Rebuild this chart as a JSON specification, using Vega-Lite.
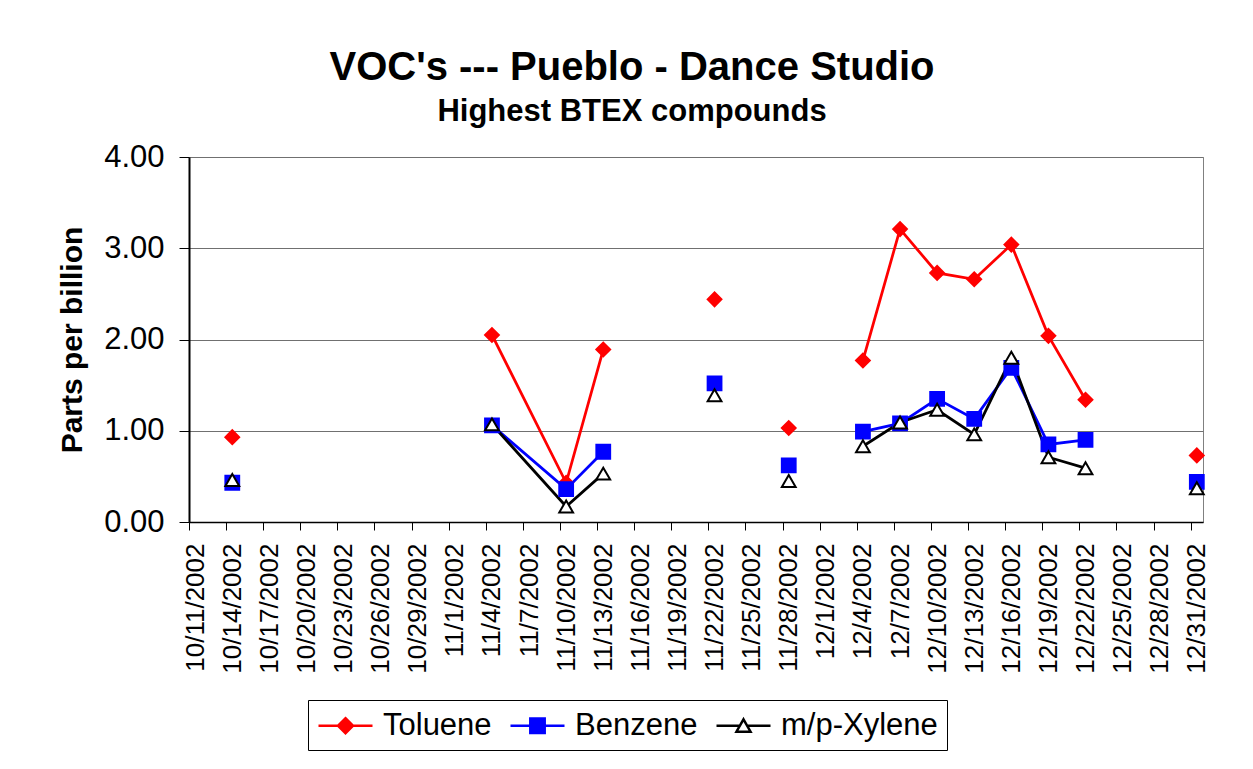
{
  "$schema": "https://vega.github.io/schema/vega-lite/v6.json",
  "autosize": {"type": "none"},
  "padding": {"left": 189, "top": 157, "right": 50, "bottom": 247},
  "width": 1014,
  "height": 365,
  "background": "white",
  "title": {
    "text": "VOC's --- Pueblo - Dance Studio",
    "subtitle": "Highest BTEX compounds",
    "font": "Liberation Sans",
    "subtitleFont": "Liberation Sans",
    "fontSize": 40,
    "subtitleFontSize": 31,
    "fontWeight": "bold",
    "subtitleFontWeight": "bold",
    "color": "#000000",
    "subtitleColor": "#000000",
    "anchor": "middle",
    "frame": "group",
    "dx": -64,
    "offset": 14,
    "subtitlePadding": 9
  },
  "data": {
    "values": [
      {"date": "2002-10-14", "compound": "Toluene", "ppb": 0.93, "run": 1},
      {"date": "2002-11-04", "compound": "Toluene", "ppb": 2.05, "run": 2},
      {"date": "2002-11-10", "compound": "Toluene", "ppb": 0.43, "run": 2},
      {"date": "2002-11-13", "compound": "Toluene", "ppb": 1.89, "run": 2},
      {"date": "2002-11-22", "compound": "Toluene", "ppb": 2.44, "run": 3},
      {"date": "2002-11-28", "compound": "Toluene", "ppb": 1.03, "run": 4},
      {"date": "2002-12-04", "compound": "Toluene", "ppb": 1.77, "run": 5},
      {"date": "2002-12-07", "compound": "Toluene", "ppb": 3.21, "run": 5},
      {"date": "2002-12-10", "compound": "Toluene", "ppb": 2.73, "run": 5},
      {"date": "2002-12-13", "compound": "Toluene", "ppb": 2.66, "run": 5},
      {"date": "2002-12-16", "compound": "Toluene", "ppb": 3.04, "run": 5},
      {"date": "2002-12-19", "compound": "Toluene", "ppb": 2.04, "run": 5},
      {"date": "2002-12-22", "compound": "Toluene", "ppb": 1.34, "run": 5},
      {"date": "2002-12-31", "compound": "Toluene", "ppb": 0.73, "run": 6},
      {"date": "2002-10-14", "compound": "Benzene", "ppb": 0.43, "run": 1},
      {"date": "2002-11-04", "compound": "Benzene", "ppb": 1.06, "run": 2},
      {"date": "2002-11-10", "compound": "Benzene", "ppb": 0.36, "run": 2},
      {"date": "2002-11-13", "compound": "Benzene", "ppb": 0.77, "run": 2},
      {"date": "2002-11-22", "compound": "Benzene", "ppb": 1.52, "run": 3},
      {"date": "2002-11-28", "compound": "Benzene", "ppb": 0.62, "run": 4},
      {"date": "2002-12-04", "compound": "Benzene", "ppb": 0.99, "run": 5},
      {"date": "2002-12-07", "compound": "Benzene", "ppb": 1.08, "run": 5},
      {"date": "2002-12-10", "compound": "Benzene", "ppb": 1.35, "run": 5},
      {"date": "2002-12-13", "compound": "Benzene", "ppb": 1.13, "run": 5},
      {"date": "2002-12-16", "compound": "Benzene", "ppb": 1.69, "run": 5},
      {"date": "2002-12-19", "compound": "Benzene", "ppb": 0.85, "run": 5},
      {"date": "2002-12-22", "compound": "Benzene", "ppb": 0.90, "run": 5},
      {"date": "2002-12-31", "compound": "Benzene", "ppb": 0.44, "run": 6},
      {"date": "2002-10-14", "compound": "m/p-Xylene", "ppb": 0.46, "run": 1},
      {"date": "2002-11-04", "compound": "m/p-Xylene", "ppb": 1.07, "run": 2},
      {"date": "2002-11-10", "compound": "m/p-Xylene", "ppb": 0.17, "run": 2},
      {"date": "2002-11-13", "compound": "m/p-Xylene", "ppb": 0.53, "run": 2},
      {"date": "2002-11-22", "compound": "m/p-Xylene", "ppb": 1.39, "run": 3},
      {"date": "2002-11-28", "compound": "m/p-Xylene", "ppb": 0.45, "run": 4},
      {"date": "2002-12-04", "compound": "m/p-Xylene", "ppb": 0.83, "run": 5},
      {"date": "2002-12-07", "compound": "m/p-Xylene", "ppb": 1.09, "run": 5},
      {"date": "2002-12-10", "compound": "m/p-Xylene", "ppb": 1.23, "run": 5},
      {"date": "2002-12-13", "compound": "m/p-Xylene", "ppb": 0.96, "run": 5},
      {"date": "2002-12-16", "compound": "m/p-Xylene", "ppb": 1.80, "run": 5},
      {"date": "2002-12-19", "compound": "m/p-Xylene", "ppb": 0.71, "run": 5},
      {"date": "2002-12-22", "compound": "m/p-Xylene", "ppb": 0.59, "run": 5},
      {"date": "2002-12-31", "compound": "m/p-Xylene", "ppb": 0.37, "run": 6}
    ]
  },
  "encoding": {
    "x": {
      "field": "date",
      "type": "temporal",
      "scale": {
        "type": "utc",
        "domain": [
          {"year": 2002, "month": 10, "date": 10, "hours": 12, "utc": true},
          {"year": 2002, "month": 12, "date": 31, "hours": 12, "utc": true}
        ]
      },
      "axis": {
        "title": null,
        "values": [
          {"year": 2002, "month": 10, "date": 11, "utc": true},
          {"year": 2002, "month": 10, "date": 14, "utc": true},
          {"year": 2002, "month": 10, "date": 17, "utc": true},
          {"year": 2002, "month": 10, "date": 20, "utc": true},
          {"year": 2002, "month": 10, "date": 23, "utc": true},
          {"year": 2002, "month": 10, "date": 26, "utc": true},
          {"year": 2002, "month": 10, "date": 29, "utc": true},
          {"year": 2002, "month": 11, "date": 1, "utc": true},
          {"year": 2002, "month": 11, "date": 4, "utc": true},
          {"year": 2002, "month": 11, "date": 7, "utc": true},
          {"year": 2002, "month": 11, "date": 10, "utc": true},
          {"year": 2002, "month": 11, "date": 13, "utc": true},
          {"year": 2002, "month": 11, "date": 16, "utc": true},
          {"year": 2002, "month": 11, "date": 19, "utc": true},
          {"year": 2002, "month": 11, "date": 22, "utc": true},
          {"year": 2002, "month": 11, "date": 25, "utc": true},
          {"year": 2002, "month": 11, "date": 28, "utc": true},
          {"year": 2002, "month": 12, "date": 1, "utc": true},
          {"year": 2002, "month": 12, "date": 4, "utc": true},
          {"year": 2002, "month": 12, "date": 7, "utc": true},
          {"year": 2002, "month": 12, "date": 10, "utc": true},
          {"year": 2002, "month": 12, "date": 13, "utc": true},
          {"year": 2002, "month": 12, "date": 16, "utc": true},
          {"year": 2002, "month": 12, "date": 19, "utc": true},
          {"year": 2002, "month": 12, "date": 22, "utc": true},
          {"year": 2002, "month": 12, "date": 25, "utc": true},
          {"year": 2002, "month": 12, "date": 28, "utc": true},
          {"year": 2002, "month": 12, "date": 31, "utc": true}
        ],
        "labelExpr": "utcFormat(datum.value, '%-m/%-d/%Y')",
        "labelAngle": 270,
        "labelFont": "Liberation Sans",
        "labelFontSize": 26,
        "labelColor": "#000000",
        "labelPadding": 13,
        "labelOverlap": false,
        "labelBound": false,
        "labelFlush": false,
        "tickOffset": -6.18,
        "labelOffset": 6.18,
        "tickSize": 8,
        "tickColor": "#000000",
        "tickWidth": 1,
        "domainColor": "#000000",
        "domainWidth": 1.5,
        "grid": false
      }
    },
    "y": {
      "field": "ppb",
      "type": "quantitative",
      "scale": {"domain": [0, 4], "nice": false, "zero": true},
      "axis": {
        "title": "Parts per billion",
        "titleFont": "Liberation Sans",
        "titleFontSize": 30,
        "titleFontWeight": "bold",
        "titleColor": "#000000",
        "titlePadding": 16,
        "values": [0, 1, 2, 3, 4],
        "format": ".2f",
        "labelFont": "Liberation Sans",
        "labelFontSize": 31,
        "labelColor": "#000000",
        "labelPadding": 15,
        "tickSize": 10,
        "tickColor": "#000000",
        "tickWidth": 1,
        "domainColor": "#000000",
        "domainWidth": 2,
        "grid": true,
        "gridColor": "#707070",
        "gridWidth": 1
      }
    }
  },
  "layer": [
    {
      "mark": {"type": "line", "strokeWidth": 2.75},
      "encoding": {
        "color": {
          "field": "compound",
          "type": "nominal",
          "scale": {
            "domain": ["Toluene", "Benzene", "m/p-Xylene"],
            "range": ["#ff0000", "#0000ff", "#000000"]
          },
          "legend": {
            "orient": "none",
            "legendX": 119,
            "legendY": 543,
            "direction": "horizontal",
            "title": null,
            "labelFont": "Liberation Sans",
            "labelFontSize": 31,
            "labelColor": "#000000",
            "labelOffset": 33,
            "columnPadding": 13,
            "gridAlign": "each",
            "padding": 9,
            "strokeColor": "#000000",
            "fillColor": "#ffffff",
            "symbolSize": 900,
            "symbolStrokeWidth": 2.5,
            "encode": {
              "symbols": {
                "update": {
                  "shape": {"signal": "datum.value === 'Toluene' ? 'M-1,0L2.6,0M0.8,-0.5L1.3,0L0.8,0.5L0.3,0Z' : (datum.value === 'Benzene' ? 'M-1,0L2.6,0M0.32,-0.48L1.28,-0.48L1.28,0.48L0.32,0.48Z' : 'M-1,0L0.56,0M1.04,0L2.6,0M0.8,-0.43L1.27,0.4L0.33,0.4Z')"},
                  "fill": {"signal": "datum.value === 'Toluene' ? '#ff0000' : (datum.value === 'Benzene' ? '#0000ff' : '#ffffff')"},
                  "stroke": {"signal": "datum.value === 'Toluene' ? '#ff0000' : (datum.value === 'Benzene' ? '#0000ff' : '#000000')"},
                  "strokeWidth": {"value": 2.5},
                  "opacity": {"value": 1}
                }
              }
            }
          }
        },
        "detail": {"field": "run", "type": "nominal"}
      }
    },
    {
      "transform": [{"filter": "datum.compound === 'Toluene'"}],
      "mark": {"type": "point", "shape": "diamond", "filled": true, "size": 190, "color": "#ff0000", "stroke": "#ff0000", "strokeWidth": 2, "opacity": 1}
    },
    {
      "transform": [{"filter": "datum.compound === 'Benzene'"}],
      "mark": {"type": "point", "shape": "square", "filled": true, "size": 190, "color": "#0000ff", "stroke": "#0000ff", "strokeWidth": 2, "opacity": 1}
    },
    {
      "transform": [{"filter": "datum.compound === 'm/p-Xylene'"}],
      "mark": {"type": "point", "shape": "triangle-up", "filled": true, "size": 190, "fill": "#ffffff", "stroke": "#000000", "strokeWidth": 2, "opacity": 1}
    }
  ],
  "config": {
    "view": {"stroke": "#808080", "strokeWidth": 1},
    "font": "Liberation Sans"
  }
}
